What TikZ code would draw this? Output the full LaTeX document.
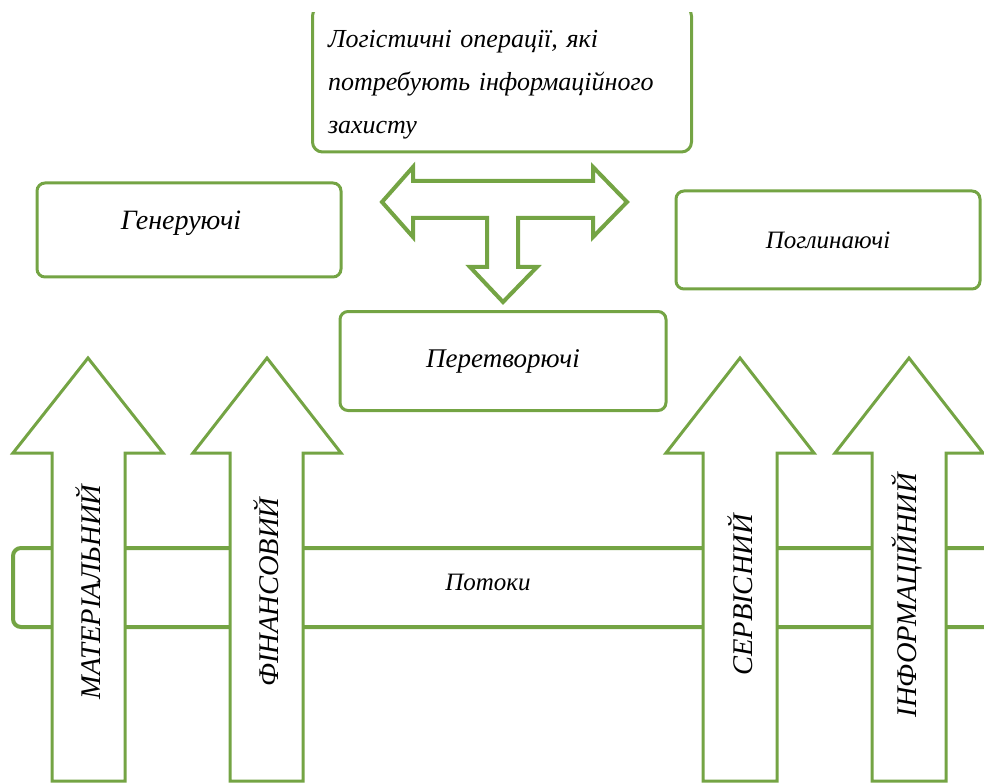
\documentclass[tikz,border=0pt]{standalone}
\usepackage{fontspec}
\setmainfont{Liberation Serif}
\usepackage{xcolor}
\definecolor{leaf}{RGB}{116,164,68}
\usepackage{tikz}
\usetikzlibrary{positioning}
\usetikzlibrary{arrows.meta}

\begin{document}
\begin{tikzpicture}[x=1pt,y=-1pt]
\useasboundingbox (0,0) rectangle (984,783);
\clip (0,13) rectangle (984,783);
% top box
\node (ops) at (502,79) [draw=leaf,line width=3pt,rounded corners=10pt,minimum width=379pt,minimum height=146pt] {};
\node (opstext) at (503,85) [text width=350pt,align=left,inner sep=0pt,font=\fontsize{26}{43}\selectfont\itshape] {Логістичні операції, які\\потребують інформаційного\\захисту};
% T arrow
\draw[leaf,line width=4pt,fill=white,line join=miter] (382,202) -- (413,167) -- (413,181) -- (593,181) -- (593,167) -- (627,202) -- (593,237) -- (593,218) -- (518,218) -- (518,267) -- (537,267) -- (503,302) -- (470,267) -- (487,267) -- (487,218) -- (413,218) -- (413,237) -- cycle;
% boxes
\node (gen) at (189,230) [draw=leaf,line width=3pt,rounded corners=8pt,minimum width=304pt,minimum height=94pt,fill=white] {};
\node (gentext) at (181,223) [font=\fontsize{28}{32}\selectfont\itshape] {Генеруючі};
\node (absorb) at (828,240) [draw=leaf,line width=3pt,rounded corners=8pt,minimum width=304pt,minimum height=98pt,fill=white,font=\fontsize{25}{30}\selectfont\itshape] {Поглинаючі};
\node (convert) at (503,361) [draw=leaf,line width=3pt,rounded corners=8pt,minimum width=326pt,minimum height=99pt,fill=white,font=\fontsize{27}{30}\selectfont\itshape] {Перетворючі};
% flows band
\draw[leaf,line width=4pt,fill=white,rounded corners=8pt] (995,548) -- (13,548) -- (13,627) -- (995,627);
\node (flows) at (488,582) [font=\fontsize{25}{28}\selectfont\itshape] {Потоки};
% up arrows
\draw[leaf,line width=3pt,fill=white,line join=miter] (52,781) -- (52,453) -- (13,453) -- (88,358) -- (163,453) -- (125,453) -- (125,781) -- cycle;
\node (material) at (88,592) [rotate=90,font=\fontsize{28.5}{30}\selectfont\itshape] {МАТЕРІАЛЬНИЙ};
\draw[leaf,line width=3pt,fill=white,line join=miter] (230,781) -- (230,453) -- (193,453) -- (267,358) -- (341,453) -- (303,453) -- (303,781) -- cycle;
\node (finance) at (266,592) [rotate=90,font=\fontsize{28.5}{30}\selectfont\itshape] {ФІНАНСОВИЙ};
\draw[leaf,line width=3pt,fill=white,line join=miter] (703,781) -- (703,453) -- (666,453) -- (740,358) -- (814,453) -- (777,453) -- (777,781) -- cycle;
\node (service) at (740,595) [rotate=90,font=\fontsize{28.5}{30}\selectfont\itshape] {СЕРВІСНИЙ};
\draw[leaf,line width=3pt,fill=white,line join=miter] (872,781) -- (872,453) -- (835,453) -- (909,358) -- (983,453) -- (946,453) -- (946,781) -- cycle;
\node (info) at (907,595) [rotate=90,font=\fontsize{28.5}{30}\selectfont\itshape] {ІНФОРМАЦІЙНИЙ};
\end{tikzpicture}
\end{document}
